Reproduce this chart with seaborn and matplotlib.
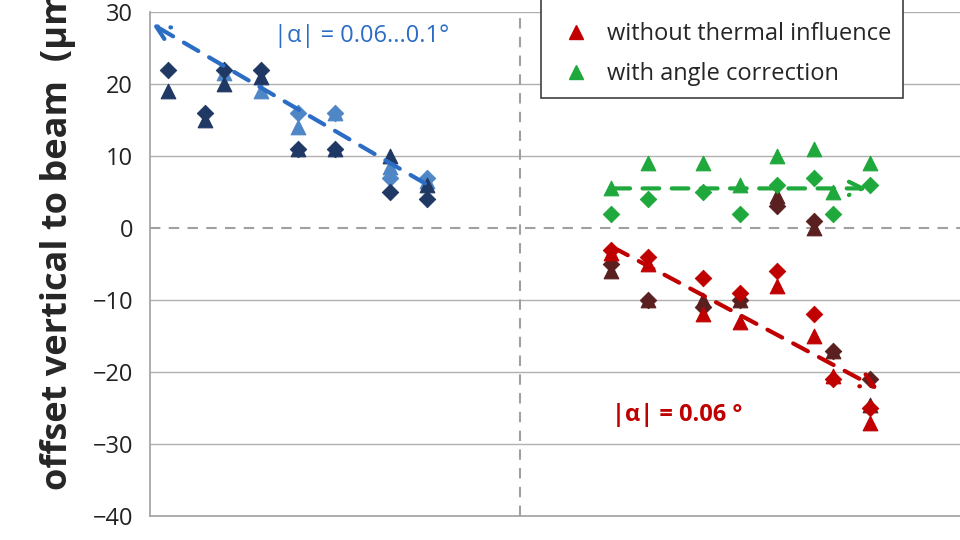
import matplotlib
matplotlib.use('Agg')
import matplotlib.pyplot as plt
from matplotlib.lines import Line2D
import seaborn as sns
import pandas as pd

sns.set_style("white")
plt.rcParams['font.family'] = 'Open Sans'

# left group (thermal drift, blue)
x_left = [0.1, 0.3, 0.4, 0.6, 0.8, 1.0, 1.3, 1.5]
navy_dia = [22, 16, 22, 22, 11, 11, 5, 4]
navy_tri = [19, 15, 20, 21, 11, 11, 10, 6]
light_dia = [None, None, None, None, 16, 16, 7, 7]
light_tri = [None, None, 21.5, 19, 14, 16, 8.5, 6.5]
blue_trend_x = [1.5, 0.0]
blue_trend_y = [6, 28.5]

# right group
x_right = [2.49, 2.69, 2.99, 3.19, 3.39, 3.59, 3.69, 3.89]
green_tri = [5.5, 9, 9, 6, 10, 11, 5, 9]
green_dia = [2, 4, 5, 2, 6, 7, 2, 6]
red_tri = [-3.5, -5, -12, -13, -8, -15, -20.5, -27]
red_dia = [-3, -4, -7, -9, -6, -12, -21, -25]
brown_tri = [-6, -10, -10, -10, 4.5, 0, -17, -24.5]
brown_dia = [-5, -10, -11, -10, 3, 1, -17, -21]
green_trend_x = [2.49, 3.89]
green_trend_y = [5.5, 5.5]
red_trend_x = [2.49, 3.95]
red_trend_y = [-2.5, -22.5]

NAVY, LBLUE = '#1f3864', '#4f86c6'
GREEN, RED, BROWN = '#1fa83c', '#c00000', '#5a2020'

fig = plt.figure(figsize=(9.6, 5.4), dpi=100)
ax = fig.add_axes([0.156, 0.044, 0.844, 0.934])
ax.set_xlim(0, 4.378)
ax.set_ylim(-40, 30)
ax.set_yticks(range(-40, 31, 10))
for y in range(-30, 31, 10):
    if y != 0:
        ax.axhline(y, color='#b0b0b0', lw=1, zorder=0)
ax.axhline(0, color='#a0a0a0', lw=1.5, ls=(0, (5, 4)), zorder=0)
ax.axvline(2, color='#a0a0a0', lw=1.5, ls=(0, (5, 4)), zorder=0)

def pts(xs, ys, color, marker, size, label=None):
    df = pd.DataFrame({'x': xs, 'y': ys}).dropna()
    sns.scatterplot(data=df, x='x', y='y', color=color, marker=marker, s=size,
                    edgecolor=color, ax=ax, label=label, zorder=3)

pts(x_left, light_tri, LBLUE, '^', 110)
pts(x_left, light_dia, LBLUE, 'D', 70)
pts(x_left, navy_tri, NAVY, '^', 110)
pts(x_left, navy_dia, NAVY, 'D', 70)
pts(x_right, brown_tri, BROWN, '^', 110)
pts(x_right, brown_dia, BROWN, 'D', 70)
pts(x_right, red_dia, RED, 'D', 70)
pts(x_right, red_tri, RED, '^', 110)
pts(x_right, green_dia, GREEN, 'D', 70)
pts(x_right, green_tri, GREEN, '^', 110)

for tx, ty, c in [(blue_trend_x, blue_trend_y, '#2b6cc4'),
                  (green_trend_x, green_trend_y, GREEN),
                  (red_trend_x, red_trend_y, RED)]:
    ax.annotate('', xy=(tx[1], ty[1]), xytext=(tx[0], ty[0]),
                arrowprops=dict(arrowstyle='->', color=c, lw=3,
                                ls=(0, (4, 3)), mutation_scale=24), zorder=4)

ax.text(0.67, 25.8, '|α| = 0.06...0.1°', color='#2b6cc4', fontsize=17)
ax.text(2.5, -26.8, '|α| = 0.06 °', color=RED, fontsize=17, fontweight='bold')

ax.set_xticks([1, 2, 3, 4])
ax.set_xticklabels([])
ax.tick_params(axis='x', direction='in', length=18, color='#a0a0a0', width=1.2)
ax.tick_params(axis='y', labelsize=17, length=0, pad=12, labelcolor='#222222')
ax.set_xlabel('')
ax.set_ylabel('offset vertical to beam  (µm)', fontsize=26, fontweight='bold',
              labelpad=12, y=0.56)
for s in ['top', 'right']:
    ax.spines[s].set_visible(False)
for s in ['left', 'bottom']:
    ax.spines[s].set_color('#a0a0a0')
    ax.spines[s].set_linewidth(1.2)

handles = [Line2D([], [], ls='', marker='^', color=BROWN, ms=10),
           Line2D([], [], ls='', marker='^', color=RED, ms=10),
           Line2D([], [], ls='', marker='^', color=GREEN, ms=10)]
labels = ['with thermal influence', 'without thermal influence', 'with angle correction']
leg = ax.legend(handles, labels, loc='lower left', bbox_to_anchor=(0.4827, 0.829),
                fontsize=17, frameon=True, fancybox=False, edgecolor='#404040',
                handletextpad=0.3, borderpad=0.5, labelspacing=0.7,
                borderaxespad=0, framealpha=1)
leg.get_frame().set_linewidth(1.2)
leg.set_zorder(5)

fig.savefig('out.png', dpi=100)
